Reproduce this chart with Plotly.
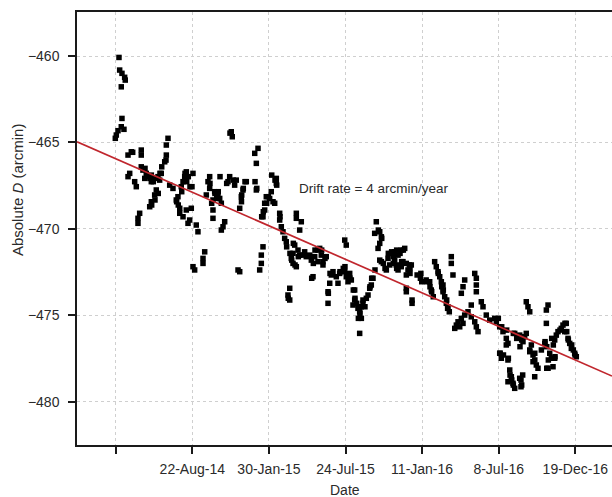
import plotly.graph_objects as go

# x position in tick intervals (0 = first unlabeled tick, 1 = 22-Aug-14, ...)
x_pos = [
    0.043, 0.052, 0.082, 0.117, 0.125, 0.073, 0.082, 0.073, 0.108, 0.030, 0.008, -0.005,
    0.161, 0.204, 0.222, 0.334, 0.334, 0.683, 0.661, 0.661, 0.640, 0.657, 0.183, 0.161,
    0.248, 0.269, 0.334, 0.356, 0.383, 0.399, 0.422, 0.448, 0.465, 0.379, 0.465, 0.491,
    0.509, 0.552, 0.595, 0.578, 0.601, 0.574, 0.705, 0.748, 0.530, 0.556, 0.509, 0.513,
    0.465, 0.470, 0.444, 0.313, 0.291, 0.291, 0.922, 0.905, 0.901, 0.948, 0.879, 0.927,
    0.856, 0.970, 0.862, 0.813, 0.791, 0.796, 0.817, 0.836, 0.836, 0.879, 0.922, 0.944,
    1.509, 1.522, 1.492, 1.858, 1.815, 1.836, 1.819, 1.836, 1.009, 0.996, 0.987, 0.966,
    1.052, 1.074, 1.227, 1.205, 1.231, 1.227, 1.183, 1.292, 1.296, 1.335, 1.358, 1.319,
    1.270, 1.253, 1.379, 1.270, 1.270, 1.362, 1.488, 1.466, 1.535, 1.574, 1.553, 1.449,
    1.705, 1.688, 1.662, 1.666, 1.645, 1.640, 1.642, 1.619, 1.842, 1.423, 1.401, 1.379,
    1.339, 1.162, 1.140, 1.140, 1.009, 1.031, 1.597, 1.619, 1.923, 1.901, 1.901, 1.880,
    1.966, 1.992, 1.945, 1.971, 1.945, 1.927, 1.923, 1.906,
    2.037, 2.080, 2.097, 2.097, 2.102, 2.031, 2.010, 2.054, 2.076, 2.141, 2.145, 2.141,
    2.162, 2.184, 2.206, 2.227, 2.232, 2.275, 2.298, 2.341, 2.358, 2.358, 2.423, 2.402,
    2.337, 2.319, 2.315, 2.292, 2.315, 2.380, 2.402, 2.384, 2.445, 2.467, 2.488, 2.533,
    2.554, 2.559, 2.598, 2.602, 2.641, 2.663, 2.689, 2.684, 2.641, 2.706, 2.749, 2.732,
    2.706, 2.580, 2.358, 2.576, 2.559, 2.272, 2.249, 2.272, 2.253, 2.990, 3.010, 2.837,
    2.815, 2.880, 2.902, 2.924, 2.928, 2.971, 2.993, 2.990, 3.010, 3.033, 3.059, 2.794,
    2.798, 2.772, 2.776, 2.772,
    3.055, 3.076, 3.102, 3.120, 3.124, 3.120, 3.146, 3.098, 3.163, 3.189, 3.185, 3.206,
    3.228, 3.228, 3.254, 3.272, 3.294, 3.316, 3.320, 3.337, 3.359, 3.342, 3.385, 3.168,
    3.207, 3.185, 3.402, 3.381, 3.429, 3.447, 3.468, 3.473, 3.447, 3.425, 3.447, 3.468,
    3.494, 3.516, 3.533, 3.577, 3.555, 3.559, 3.598, 3.603, 3.624, 3.642, 3.668, 3.686,
    3.712, 3.728, 3.755, 3.773, 3.642, 3.624, 3.663, 3.668, 3.686, 3.728, 3.733, 3.750,
    3.794, 3.833, 3.859, 3.816, 3.842, 3.842, 3.794, 3.794, 3.794, 3.869, 3.869, 3.935,
    3.978, 3.984, 3.995, 4.053, 4.058, 4.103, 4.125, 4.146,
    4.099, 4.120, 4.164, 4.185, 4.208, 4.211, 4.230, 4.251, 4.256, 4.273, 4.273, 4.277,
    4.295, 4.316, 4.321, 4.333, 4.337, 4.355, 4.381, 4.381, 4.403, 4.556, 4.534, 4.512,
    4.687, 4.708, 4.708, 4.708, 4.642, 4.773, 4.795, 4.599, 4.556, 4.512, 4.469, 4.447,
    4.426, 4.491, 4.534, 4.642, 4.687, 4.708, 4.730, 4.838, 4.883, 4.948, 4.969, 5.013,
    5.056, 5.099, 5.099, 5.013, 5.034, 5.121, 5.121,
    4.995, 5.039, 5.104, 5.191, 5.209, 5.235, 5.274, 5.300, 5.339, 5.360, 5.317, 5.278,
    5.360, 5.382, 5.405, 5.426, 5.405, 5.448, 5.448, 5.491, 5.513, 5.470, 5.557, 5.601,
    5.644, 5.622, 5.622, 5.605, 5.627, 5.648, 5.627, 5.666, 5.687, 5.731, 5.709, 5.644,
    5.692, 5.713, 5.735, 5.731, 5.752, 5.774, 5.800, 5.817, 5.839, 5.865, 5.882, 5.862,
    5.888, 5.905, 5.909, 5.927, 5.948, 5.953, 5.974, 5.992, 5.996, 6.013, 5.121, 5.144,
    5.148, 5.165, 5.170, 5.187, 5.191, 5.209, 5.274, 5.313, 5.291, 5.300, 5.291, 5.405,
    5.471, 5.471, 5.019, 5.062, 5.126,
]

# Absolute D in arcmin
d_abs = [
    -460.08, -460.81, -461.00, -461.23, -461.39, -461.78, -463.61, -464.09, -464.24, -464.32, -464.57, -464.76,
    -465.73, -465.54, -465.57, -465.44, -465.73, -464.76, -465.15, -465.73, -466.12, -466.02, -466.79, -466.98,
    -467.27, -467.56, -466.41, -466.60, -466.50, -466.79, -466.98, -467.08, -466.89, -467.08, -467.27, -467.27,
    -467.08, -466.98, -466.79, -466.79, -466.41, -467.18, -467.47, -467.66, -467.75, -467.95, -468.04, -468.33,
    -468.43, -468.62, -468.72, -469.10, -469.39, -469.68, -466.70, -466.79, -466.98, -466.98, -467.27, -467.27,
    -467.56, -467.56, -467.85, -468.14, -468.33, -468.43, -468.62, -468.81, -469.10, -469.30, -468.91, -469.68,
    -464.38, -464.67, -464.46, -465.34, -465.63, -466.21, -467.27, -467.75, -466.79, -467.56, -468.81, -469.49,
    -469.78, -470.17, -466.98, -467.27, -467.37, -467.66, -468.04, -467.85, -467.95, -468.04, -468.24, -468.24,
    -468.33, -468.52, -468.52, -468.91, -469.39, -466.98, -466.98, -467.27, -467.18, -467.18, -467.47, -467.37,
    -467.27, -467.27, -467.75, -467.66, -468.04, -468.14, -468.43, -468.81, -467.66, -469.59, -469.88, -470.07,
    -467.85, -471.33, -471.71, -472.00, -472.19, -472.38, -472.38, -472.48, -471.04, -471.52, -472.00, -472.38,
    -468.14, -468.14, -468.52, -468.52, -468.91, -469.01, -469.30, -469.30,
    -466.89, -467.18, -467.08, -467.37, -467.47, -467.85, -468.24, -468.43, -468.52, -469.10, -469.30, -469.49,
    -469.88, -470.17, -470.55, -470.75, -471.04, -471.42, -471.81, -472.09, -469.10, -469.39, -469.59, -470.07,
    -470.94, -470.84, -471.42, -471.71, -472.00, -471.23, -471.52, -471.61, -471.52, -471.33, -471.61, -471.52,
    -471.81, -471.61, -471.61, -471.23, -471.23, -471.13, -471.23, -471.52, -471.90, -471.90, -471.61, -471.71,
    -472.09, -472.00, -472.19, -472.77, -472.86, -473.44, -473.83, -474.12, -474.02, -470.65, -470.94, -472.48,
    -472.67, -472.77, -473.15, -472.58, -472.48, -472.29, -472.19, -472.48, -472.77, -473.06, -472.86, -473.15,
    -472.58, -473.64, -473.73, -474.31,
    -472.58, -472.96, -473.54, -473.54, -474.02, -474.12, -474.31, -474.41, -474.60, -474.89, -474.80, -474.51,
    -474.31, -474.12, -474.51, -474.02, -473.83, -473.44, -473.35, -473.25, -472.86, -472.86, -472.38, -475.18,
    -475.18, -476.05, -469.59, -470.26, -470.07, -470.17, -470.46, -470.55, -470.84, -471.13, -471.81, -471.90,
    -472.00, -472.29, -472.38, -472.09, -471.71, -471.42, -471.42, -471.33, -471.61, -471.33, -471.23, -471.52,
    -471.42, -471.23, -471.23, -471.13, -471.81, -472.00, -472.09, -472.29, -472.38, -472.19, -471.90, -471.90,
    -472.00, -472.09, -472.09, -472.38, -472.29, -472.58, -472.67, -473.44, -473.64, -474.12, -474.31, -472.67,
    -472.86, -472.58, -473.06, -472.96, -473.06, -473.35, -473.64, -473.93,
    -473.06, -473.54, -471.90, -472.19, -472.48, -472.58, -472.77, -473.06, -473.35, -473.25, -473.64, -473.54,
    -473.93, -474.31, -474.12, -474.60, -474.51, -474.80, -471.61, -472.00, -472.67, -472.96, -473.35, -473.73,
    -472.58, -472.86, -473.25, -473.64, -474.41, -474.22, -474.51, -474.80, -474.99, -475.18, -475.38, -475.57,
    -475.76, -475.67, -475.47, -475.09, -475.38, -475.67, -475.95, -474.99, -475.28, -475.18, -475.38, -475.67,
    -475.95, -476.34, -476.72, -477.20, -477.49, -477.59, -478.85,
    -475.18, -475.67, -475.86, -476.05, -476.05, -476.34, -476.15, -476.43, -476.24, -476.05, -476.53, -476.82,
    -474.22, -474.51, -474.80, -476.72, -477.11, -477.30, -477.69, -477.88, -478.07, -478.56, -477.01, -476.63,
    -474.41, -474.70, -475.47, -476.53, -476.82, -477.59, -478.07, -477.20, -477.49, -477.49, -477.98, -478.07,
    -476.34, -476.72, -477.40, -476.43, -476.15, -475.95, -475.86, -475.76, -475.57, -475.47, -475.47, -475.95,
    -475.95, -476.34, -476.43, -476.63, -476.92, -476.72, -477.01, -477.20, -477.30, -477.40, -476.63, -478.17,
    -478.46, -478.56, -478.75, -478.94, -479.04, -479.23, -478.65, -478.46, -478.75, -479.04, -479.14, -477.01,
    -477.20, -477.59, -477.20, -477.30, -477.49,
]

# Linear drift fit (4 arcmin/year)
fit_x = [-0.505, 6.479]
fit_y = [-464.96, -478.52]

tick_vals = [0, 1, 2, 3, 4, 5, 6]
tick_text = ["", "22-Aug-14", "30-Jan-15", "24-Jul-15", "11-Jan-16", "8-Jul-16", "19-Dec-16"]
y_ticks = [-480, -475, -470, -465, -460]

font_family = "Liberation Sans, Arial, sans-serif"
text_color = "#2a2a2a"
grid_style = dict(showgrid=True, gridcolor="#cfcfcf", griddash="3px,3px", gridwidth=1)

fig = go.Figure()
fig.add_trace(go.Scatter(
    x=x_pos, y=d_abs, mode="markers",
    marker=dict(symbol="square", size=5.5, color="black", line=dict(width=0)),
    showlegend=False, cliponaxis=True,
))
fig.add_trace(go.Scatter(
    x=fit_x, y=fit_y, mode="lines",
    line=dict(color="#c0262d", width=1.7),
    showlegend=False,
))

fig.update_layout(
    width=612, height=497,
    margin=dict(l=77, r=0, t=12, b=52),
    paper_bgcolor="white", plot_bgcolor="white",
    font=dict(family=font_family, size=14, color=text_color),
    xaxis=dict(
        range=[-0.505, 6.479],
        tickmode="array", tickvals=tick_vals, ticktext=tick_text,
        showline=True, linecolor="#1a1a1a", linewidth=1.5, mirror=True,
        ticks="outside", ticklen=7, tickwidth=1.5, tickcolor="#1a1a1a",
        ticklabelstandoff=3,
        tickfont=dict(size=14),
        zeroline=False,
        **grid_style,
    ),
    yaxis=dict(
        range=[-482.51, -457.45],
        tickmode="array", tickvals=y_ticks,
        showline=True, linecolor="#1a1a1a", linewidth=1.5,
        ticks="outside", ticklen=7, tickwidth=1.5, tickcolor="#1a1a1a",
        ticklabelstandoff=6,
        tickfont=dict(size=14),
        zeroline=False,
        **grid_style,
    ),
    annotations=[
        dict(text="Drift rate = 4 arcmin/year", x=3.372, y=-467.64, xref="x", yref="y",
             showarrow=False, font=dict(size=13.5, color=text_color), xanchor="center", yanchor="middle"),
        dict(text="Absolute <i>D</i> (arcmin)", x=-0.110, y=0.589, xref="paper", yref="paper",
             showarrow=False, textangle=-90, font=dict(size=15, color=text_color),
             xanchor="center", yanchor="middle"),
        dict(text="Date", x=0.5, y=-0.104, xref="paper", yref="paper",
             showarrow=False, font=dict(size=14, color=text_color),
             xanchor="center", yanchor="middle"),
    ],
)

fig.write_html("out.html")
